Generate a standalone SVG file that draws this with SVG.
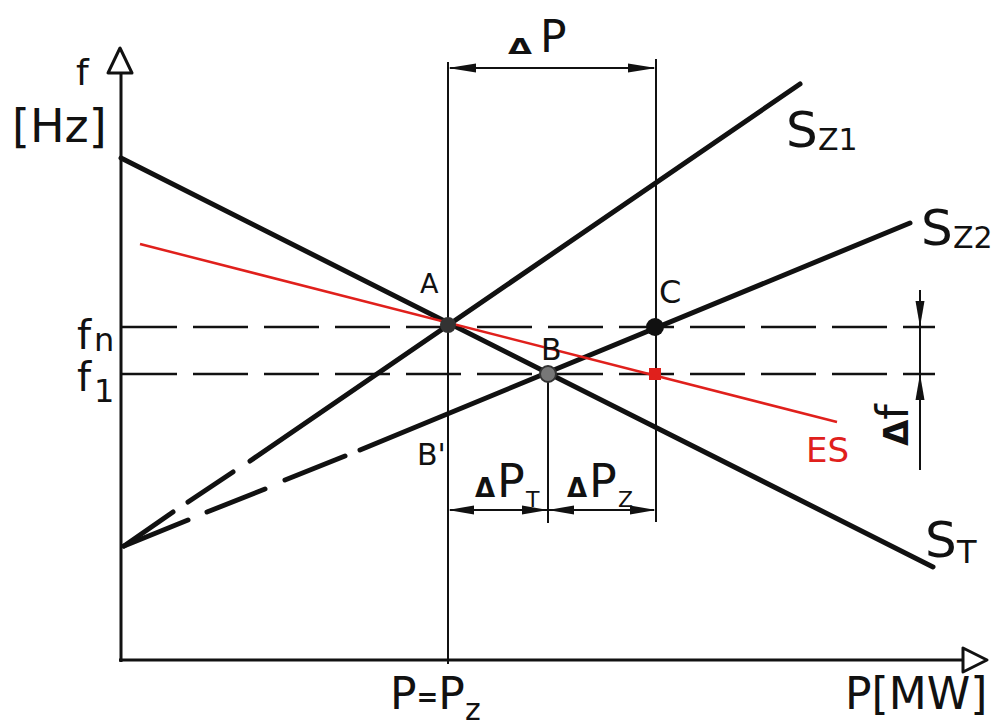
<svg xmlns="http://www.w3.org/2000/svg" width="1001" height="726" viewBox="0 0 1001 726">
<style>
text{font-family:"DejaVu Sans","Liberation Sans",sans-serif;fill:#111}
.d{font-weight:bold}
.ax{stroke:#111;stroke-width:3;fill:none}
.ln{stroke:#111;stroke-width:5;fill:none;stroke-linecap:round}
.ds{stroke:#111;stroke-width:2.5;fill:none;stroke-dasharray:55 16}
.dim{stroke:#111;stroke-width:2;fill:none}
.ah{fill:#111;stroke:none}
.red{stroke:#e0201c;stroke-width:2.5;fill:none}
</style>
<rect width="1001" height="726" fill="#fff"/>
<g id="connectors">
  <line class="ax" x1="121" y1="72" x2="121" y2="662"/>
  <line class="ax" x1="119" y1="660" x2="963" y2="660"/>
  <polygon points="120,48 108,73 132,73" fill="#fff" stroke="#111" stroke-width="3" stroke-linejoin="round"/>
  <polygon points="987,660 963,648 963,672" fill="#fff" stroke="#111" stroke-width="3" stroke-linejoin="round"/>
  <line class="ds" x1="122" y1="327" x2="935" y2="327"/>
  <line class="ds" x1="122" y1="374" x2="935" y2="374"/>
  <line class="dim" x1="448" y1="62" x2="448" y2="664"/>
  <line class="dim" x1="656" y1="59" x2="656" y2="522"/>
  <line class="dim" x1="548" y1="374" x2="548" y2="523"/>
  <line class="ln" x1="121" y1="158" x2="933" y2="567"/>
  <line class="ln" x1="124" y1="546" x2="173" y2="512"/>
  <line class="ln" x1="188" y1="502" x2="233" y2="472"/>
  <line class="ln" x1="250" y1="461" x2="800" y2="84"/>
  <line class="ln" x1="124" y1="546" x2="188" y2="520"/>
  <line class="ln" x1="207" y1="512" x2="265" y2="489"/>
  <line class="ln" x1="285" y1="480" x2="345" y2="456"/>
  <line class="ln" x1="360" y1="450" x2="910" y2="223"/>
  <line class="red" x1="140" y1="244" x2="837" y2="422"/>
  <line class="dim" x1="450" y1="68" x2="654" y2="68"/>
  <polygon class="ah" points="448,68 476,63.5 476,72.5"/>
  <polygon class="ah" points="656,68 628,63.5 628,72.5"/>
  <line class="dim" x1="450" y1="510" x2="654" y2="510"/>
  <polygon class="ah" points="448,510 474,505.5 474,514.5"/>
  <polygon class="ah" points="548,510 522,505.5 522,514.5"/>
  <polygon class="ah" points="548,510 574,505.5 574,514.5"/>
  <polygon class="ah" points="656,510 630,505.5 630,514.5"/>
  <line class="dim" x1="920" y1="290" x2="920" y2="470"/>
  <polygon class="ah" points="920,327 915.5,301 924.5,301"/>
  <polygon class="ah" points="920,374 915.5,400 924.5,400"/>
</g>
<g id="point-A">
  <circle cx="448" cy="325" r="8" fill="#333"/>
  <text x="420" y="293" font-size="27">A</text>
</g>
<g id="point-B">
  <circle cx="548" cy="374" r="8" fill="#777" stroke="#333" stroke-width="2"/>
  <text x="541" y="360" font-size="30">B</text>
</g>
<g id="point-C">
  <circle cx="655" cy="327" r="9" fill="#111"/>
  <text x="659" y="303" font-size="32">C</text>
</g>
<g id="point-ES">
  <rect x="649" y="368" width="12" height="12" fill="#e0201c"/>
  <text x="806" y="462" font-size="34" style="fill:#e0201c">ES</text>
</g>
<g id="label-Bprime">
  <text x="417" y="465" font-size="30">B'</text>
</g>
<g id="axis-f">
  <text x="76" y="85" font-size="36">f</text>
  <text x="12" y="142" font-size="46">[Hz]</text>
</g>
<g id="axis-P">
  <text x="845" y="709" font-size="44">P[MW]</text>
</g>
<g id="label-fn">
  <text x="77" y="349" font-size="40">f</text>
  <text x="94" y="351" font-size="32">n</text>
</g>
<g id="label-f1">
  <text x="77" y="391" font-size="40">f</text>
  <text x="94" y="402" font-size="32">1</text>
</g>
<g id="label-dP">
  <text class="d" x="508" y="54" font-size="21" textLength="24" lengthAdjust="spacingAndGlyphs">Δ</text>
  <text x="540" y="52" font-size="44">P</text>
</g>
<g id="label-dPT">
  <text class="d" x="475" y="497" font-size="26">Δ</text>
  <text x="497" y="497" font-size="46">P</text>
  <text x="526" y="507" font-size="22">T</text>
</g>
<g id="label-dPZ">
  <text class="d" x="567" y="497" font-size="26">Δ</text>
  <text x="589" y="497" font-size="46">P</text>
  <text x="618" y="507" font-size="22">Z</text>
</g>
<g id="label-df">
  <text transform="translate(908,446) rotate(-90)" font-size="34"><tspan font-weight="bold">Δ</tspan><tspan font-size="44">f</tspan></text>
</g>
<g id="label-SZ1">
  <text x="786" y="147" font-size="50">S</text>
  <text x="818" y="150" font-size="30">Z1</text>
</g>
<g id="label-SZ2">
  <text x="921" y="245" font-size="50">S</text>
  <text x="953" y="248" font-size="30">Z2</text>
</g>
<g id="label-ST">
  <text x="925" y="557" font-size="50">S</text>
  <text x="957" y="563" font-size="32">T</text>
</g>
<g id="label-PPz">
  <text x="390" y="709" font-size="44">P<tspan font-size="26" font-weight="bold" dy="-3">=</tspan><tspan font-size="44" dy="3">P</tspan><tspan font-size="30" dy="11">z</tspan></text>
</g>
</svg>
